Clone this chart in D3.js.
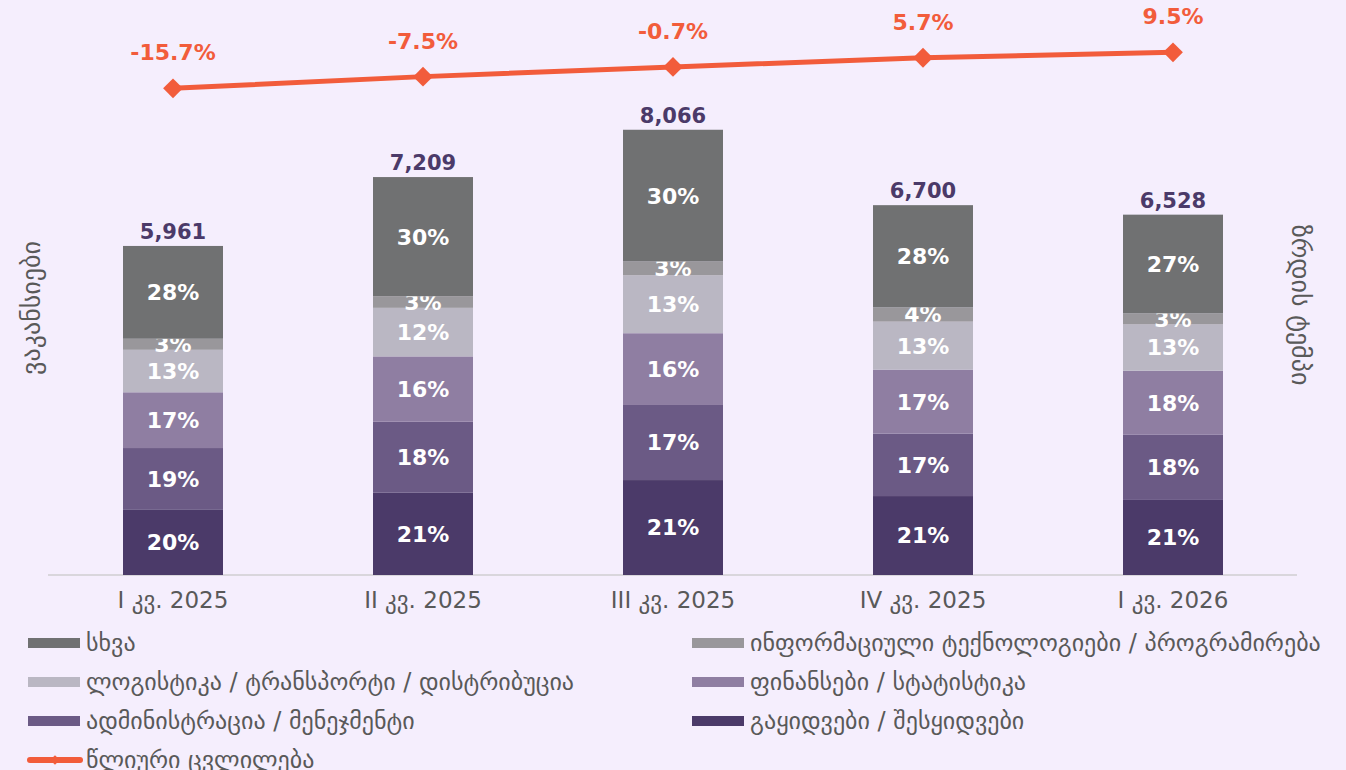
<!DOCTYPE html>
<html>
<head>
<meta charset="utf-8">
<script src="https://cdnjs.cloudflare.com/ajax/libs/d3/7.8.5/d3.min.js"></script>
<style>
  body { margin: 0; background: #f5eefd; }
  #chart { width: 1346px; height: 770px; }
  text { font-family: "DejaVu Sans", sans-serif; }
</style>
</head>
<body>
<div id="chart"></div>
<script>
// quarters
const quarters = ["I კვ. 2025", "II კვ. 2025", "III კვ. 2025", "IV კვ. 2025", "I კვ. 2026"];
const totals = [5961, 7209, 8066, 6700, 6528];

// stacked segments, bottom to top
const purchases = [1190, 1490, 1720, 1430, 1360];
const admin = [1110, 1290, 1360, 1130, 1180];
const finance = [1010, 1180, 1300, 1160, 1160];
const logistics = [770, 880, 1050, 870, 840];
const itProg = [200, 210, 250, 260, 200];
const other = [1681, 2159, 2386, 1850, 1788];

// year-on-year change, %
const yoy = [-15.7, -7.5, -0.7, 5.7, 9.5];

const seriesNames = [
  "გაყიდვები / შესყიდვები",
  "ადმინისტრაცია / მენეჯმენტი",
  "ფინანსები / სტატისტიკა",
  "ლოგისტიკა / ტრანსპორტი / დისტრიბუცია",
  "ინფორმაციული ტექნოლოგიები / პროგრამირება",
  "სხვა"
];
const seriesColors = ["#4b3a69", "#6b5a85", "#8f7ea2", "#bab7c3", "#99979b", "#707172"];
const seriesValues = [purchases, admin, finance, logistics, itProg, other];
const lineName = "წლიური ცვლილება";
const lineColor = "#f25c3b";

const W = 1346, H = 770;
const mLeft = 48, mRight = 1298, mTop = 23, mBottom = 575;

const svg = d3.select("#chart").append("svg")
  .attr("width", W).attr("height", H);

const x = d3.scaleBand().domain(quarters).range([mLeft, mRight])
  .paddingInner(0.6).paddingOuter(0.3);
const y = d3.scaleLinear().domain([0, 10000]).range([mBottom, mTop]);
const y2 = d3.scaleLinear().domain([-356, 30]).range([mBottom, mTop]);

// build rows for stack
const keys = seriesNames;
const rows = quarters.map((q, i) => {
  const r = { q: q, total: totals[i] };
  keys.forEach((k, j) => { r[k] = seriesValues[j][i]; });
  return r;
});
const stacked = d3.stack().keys(keys)(rows);

// x axis
const xAxis = svg.append("g")
  .attr("transform", `translate(0,${mBottom})`)
  .call(d3.axisBottom(x).tickSize(0).tickPadding(17));
xAxis.select(".domain").attr("stroke", "#d9d6dc").attr("stroke-width", 2)
  .attr("d", `M${mLeft},0H${mRight - 1}`);
xAxis.selectAll("text")
  .style("font-family", "'DejaVu Sans', sans-serif")
  .style("font-size", "23px")
  .attr("fill", "#595959");

// bars
const layer = svg.selectAll("g.layer")
  .data(stacked)
  .enter().append("g")
  .attr("class", "layer")
  .attr("fill", (d, i) => seriesColors[i]);

layer.selectAll("rect")
  .data(d => d)
  .enter().append("rect")
  .attr("x", d => x(d.data.q))
  .attr("y", d => y(d[1]))
  .attr("width", x.bandwidth())
  .attr("height", d => y(d[0]) - y(d[1]));

layer.selectAll("text")
  .data(d => d)
  .enter().append("text")
  .attr("x", d => x(d.data.q) + x.bandwidth() / 2)
  .attr("y", d => (y(d[0]) + y(d[1])) / 2)
  .attr("dy", "0.36em")
  .attr("text-anchor", "middle")
  .attr("fill", "#ffffff")
  .style("font-size", "22px")
  .style("font-weight", "bold")
  .text(d => Math.round((d[1] - d[0]) / d.data.total * 100) + "%");

// totals
svg.selectAll("text.total")
  .data(rows)
  .enter().append("text")
  .attr("class", "total")
  .attr("x", d => x(d.q) + x.bandwidth() / 2)
  .attr("y", d => y(d.total) - 7)
  .attr("text-anchor", "middle")
  .attr("fill", "#4b3a69")
  .style("font-size", "21px")
  .style("font-weight", "bold")
  .text(d => d3.format(",")(d.total));

// yoy line
const linePts = quarters.map((q, i) => ({ q: q, v: yoy[i] }));
const cx = d => x(d.q) + x.bandwidth() / 2;

svg.append("path")
  .datum(linePts)
  .attr("fill", "none")
  .attr("stroke", lineColor)
  .attr("stroke-width", 5)
  .attr("d", d3.line().x(cx).y(d => y2(d.v)));

svg.selectAll("path.marker")
  .data(linePts)
  .enter().append("path")
  .attr("class", "marker")
  .attr("transform", d => `translate(${cx(d)},${y2(d.v)})`)
  .attr("d", d3.symbol(d3.symbolDiamond2, 250))
  .attr("fill", lineColor);

svg.selectAll("text.yoy")
  .data(linePts)
  .enter().append("text")
  .attr("class", "yoy")
  .attr("x", cx)
  .attr("y", d => y2(d.v) - 28)
  .attr("text-anchor", "middle")
  .attr("fill", lineColor)
  .style("font-size", "22px")
  .style("font-weight", "bold")
  .text(d => d.v.toFixed(1) + "%");

// axis titles
svg.append("text")
  .attr("transform", `translate(40,${308}) rotate(-90)`)
  .attr("text-anchor", "middle")
  .attr("fill", "#595959")
  .style("font-size", "26px")
  .text("ვაკანსიები");

svg.append("text")
  .attr("transform", `translate(1292,${305}) rotate(90)`)
  .attr("text-anchor", "middle")
  .attr("fill", "#595959")
  .style("font-size", "26px")
  .text("ზრდის ტემპი");

// legend
const legendItems = [
  { name: seriesNames[5], color: seriesColors[5] },
  { name: seriesNames[4], color: seriesColors[4] },
  { name: seriesNames[3], color: seriesColors[3] },
  { name: seriesNames[2], color: seriesColors[2] },
  { name: seriesNames[1], color: seriesColors[1] },
  { name: seriesNames[0], color: seriesColors[0] },
  { name: lineName, color: lineColor, line: true }
];

const lg = svg.selectAll("g.legend")
  .data(legendItems)
  .enter().append("g")
  .attr("class", "legend")
  .attr("transform", (d, i) => `translate(${i % 2 === 0 ? 28 : 692},${643 + Math.floor(i / 2) * 39})`);

lg.filter(d => !d.line).append("rect")
  .attr("x", 0).attr("y", -5)
  .attr("width", 52).attr("height", 10)
  .attr("fill", d => d.color);

const ll = lg.filter(d => d.line);
ll.append("line")
  .attr("x1", 2).attr("x2", 52)
  .attr("stroke", d => d.color)
  .attr("stroke-width", 6)
  .attr("stroke-linecap", "round");
ll.append("path")
  .attr("transform", "translate(27,0)")
  .attr("d", d3.symbol(d3.symbolDiamond2, 60))
  .attr("fill", d => d.color);

lg.append("text")
  .attr("x", 58)
  .attr("dy", "0.35em")
  .attr("fill", "#595959")
  .style("font-size", "24px")
  .text(d => d.name);
</script>
</body>
</html>
